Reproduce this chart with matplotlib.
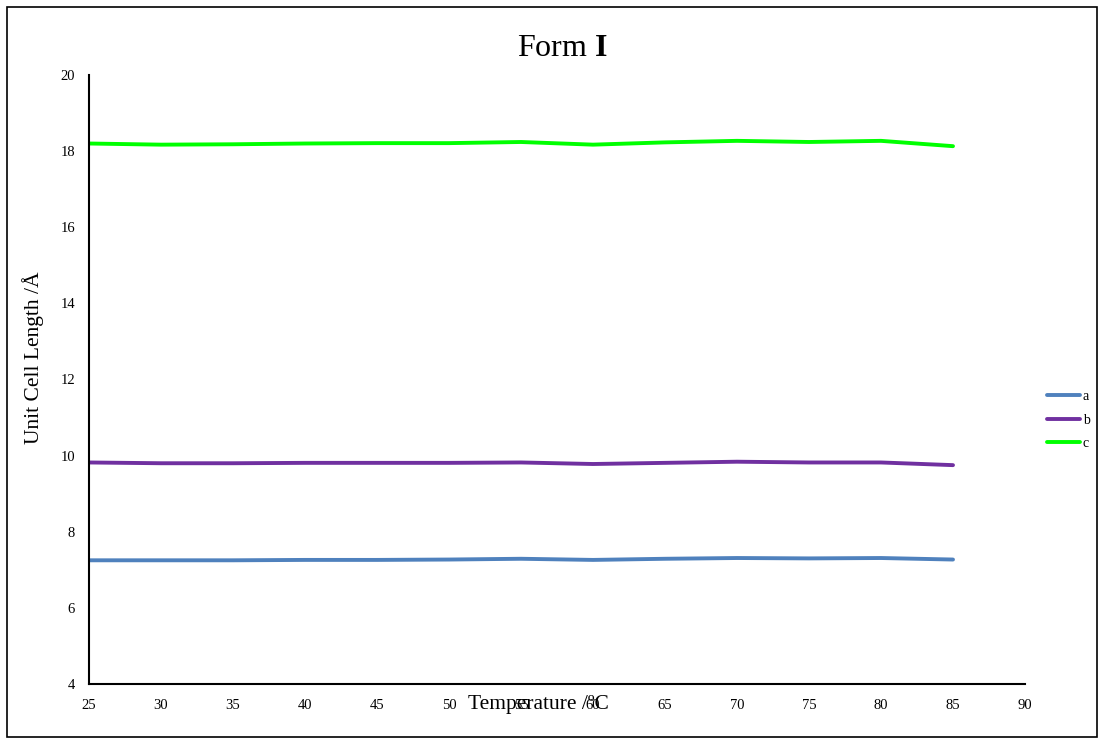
import matplotlib
matplotlib.use("Agg")
import matplotlib.pyplot as plt
from matplotlib.patches import Rectangle

plt.rcParams['font.family'] = ['Liberation Serif', 'DejaVu Serif']
plt.rcParams['mathtext.fontset'] = 'custom'
plt.rcParams['mathtext.rm'] = 'Liberation Serif'
plt.rcParams['mathtext.bf'] = 'Liberation Serif:bold'

temps = [25, 30, 35, 40, 45, 50, 55, 60, 65, 70, 75, 80, 85]
a_len = [7.25, 7.25, 7.25, 7.26, 7.26, 7.27, 7.29, 7.26, 7.29, 7.31, 7.30, 7.31, 7.27]
b_len = [9.82, 9.80, 9.80, 9.81, 9.81, 9.81, 9.82, 9.78, 9.81, 9.84, 9.82, 9.82, 9.75]
c_len = [18.20, 18.17, 18.18, 18.20, 18.21, 18.21, 18.24, 18.17, 18.23, 18.27, 18.24, 18.27, 18.13]

xticks = list(range(25, 95, 5))
yticks = list(range(4, 22, 2))

fig = plt.figure(figsize=(11.04, 7.44), dpi=100)
ax = fig.add_axes([89/1104, 1-684/744, (1025-89)/1104, (684-75)/744])

ax.plot(temps, a_len, color='#4F81BD', lw=2.8, label='a', solid_capstyle='round')
ax.plot(temps, b_len, color='#7030A0', lw=2.8, label='b', solid_capstyle='round')
ax.plot(temps, c_len, color='#00FF00', lw=2.8, label='c', solid_capstyle='round')

ax.set_xlim(25, 90)
ax.set_ylim(4, 20)
ax.set_xticks(xticks)
ax.set_yticks(yticks)
ax.tick_params(length=0, labelsize=10.5)
ax.tick_params(axis='x', pad=11)
ax.tick_params(axis='y', pad=10)
ax.spines['top'].set_visible(False)
ax.spines['right'].set_visible(False)
ax.spines['left'].set_linewidth(1.5)
ax.spines['bottom'].set_linewidth(1.5)

fig.text(562/1104, 1-49/744, r'Form $\mathbf{I}$', fontsize=23, ha='center', va='center')
fig.text(538/1104, 1-705/744, 'Temperature /ºC', fontsize=15.5, ha='center', va='center')
fig.text(33/1104, 1-358/744, 'Unit Cell Length /Å', fontsize=15.5, ha='center', va='center', rotation=90)

ax.legend(loc='center left', bbox_to_anchor=(1034/1104, 1-420/744), bbox_transform=fig.transFigure,
          frameon=False, fontsize=10, handlelength=2.4, handletextpad=0.2, labelspacing=0.75)

fig.patches.append(Rectangle((7/1104, 7/744), 1-14/1104, 1-14/744, transform=fig.transFigure,
                             fill=False, edgecolor='black', lw=1.2))

fig.savefig('out.png', dpi=100)
